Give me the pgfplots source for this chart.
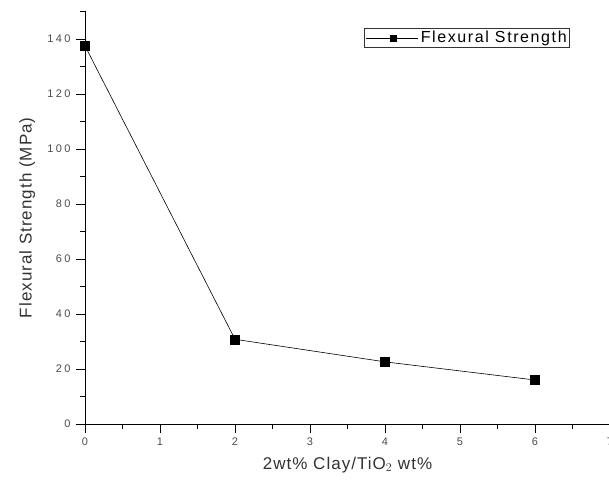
\documentclass[border=0pt]{standalone}
\usepackage{pgfplots}
\pgfplotsset{compat=1.18}
\usepackage{fontspec}
\setmainfont{Liberation Sans}
\newfontfamily\tickfont[LetterSpace=22]{Liberation Sans}
\newfontfamily\labfont[LetterSpace=6]{Liberation Sans}
\newfontfamily\legfont[LetterSpace=10]{Liberation Sans}
\begin{document}
\begin{tikzpicture}[x=1pt,y=1pt]
\useasboundingbox (-85,-63) rectangle (524,424);
\begin{axis}[
  at={(0,0)}, anchor=origin,
  scale only axis, width=525pt, height=412.5pt,
  xmin=0, xmax=7, ymin=0, ymax=150,
  axis x line*=bottom, axis y line*=left,
  axis line style={line width=0.9pt, -},
  xtick={0,1,...,7}, ytick={0,20,...,140},
  minor xtick={0.5,1.5,...,6.5}, minor ytick={10,30,...,150},
  tick align=outside, major tick length=9pt, minor tick length=5pt,
  tick style={black, line width=0.9pt},
  xticklabel={\fontsize{11}{13}\tickfont\pgfmathprintnumber{\tick}},
  yticklabel={\fontsize{11}{13}\tickfont\pgfmathprintnumber{\tick}},
  ticklabel style={text=black!70},
  yticklabel style={xshift=-2pt},
  xticklabel style={yshift=-1pt},
  /pgf/number format/assume math mode=true,
  xlabel={2wt\% Clay/TiO$_2$ wt\%},
  ylabel={Flexural Strength (MPa)},
  label style={font=\fontsize{17}{19}\labfont, text=black!80},
  xlabel style={at={(axis description cs:0.5,-0.099)}, anchor=center},
  ylabel style={at={(axis description cs:-0.11,0.5)}, anchor=center},
  legend style={at={(0.924,0.96)}, anchor=north east, draw=black!80, line width=0.8pt,
    font=\fontsize{16}{18}\legfont, inner sep=1pt, row sep=0pt,
    legend cell align=left},
  legend image code/.code={
    \draw[black, line width=0.8pt] (-0.25cm,0cm) -- (1.6cm,0cm);
    \fill[black] (0.7cm,0cm) ++(-3pt,-3pt) rectangle ++(6pt,6pt);
  },
  clip=false,
]
\addplot[black, line width=0.6pt, mark=square*, mark size=4.5pt, mark options={fill=black}]
  coordinates {(0,137.5) (2,30.8) (4,22.6) (6,16)};
\addlegendentry{Flexural Strength}
\end{axis}
\end{tikzpicture}
\end{document}
